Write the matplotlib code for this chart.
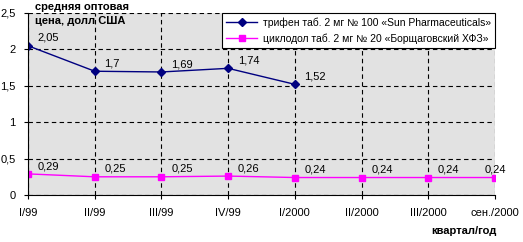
import matplotlib.pyplot as plt

# данные
quarters = ["I/99", "II/99", "III/99", "IV/99", "I/2000", "II/2000", "III/2000", "сен./2000"]
trifen = [2.05, 1.7, 1.69, 1.74, 1.52]
cyclodol = [0.29, 0.25, 0.25, 0.26, 0.24, 0.24, 0.24, 0.24]
trifen_name = "трифен таб. 2 мг № 100 «Sun Pharmaceuticals»"
cyclodol_name = "циклодол таб. 2 мг № 20 «Борщаговский ХФЗ»"
y_ticks = [0, 0.5, 1, 1.5, 2, 2.5]

plt.rcParams['font.family'] = ['Liberation Sans', 'DejaVu Sans']

fig = plt.figure(figsize=(5.23, 2.42), dpi=100)
ax = fig.add_axes([28 / 523, 47 / 242, 467 / 523, 182 / 242])
ax.set_facecolor("#e2e2e2")

x1 = list(range(len(trifen)))
x2 = list(range(len(cyclodol)))
ax.plot(x1, trifen, color="#000080", lw=1, marker="D", ms=4, label=trifen_name)
ax.plot(x2, cyclodol, color="#ff00ff", lw=1, marker="s", ms=5, label=cyclodol_name)

def fmt(v):
    return ("%g" % v).replace(".", ",")

for x, v in zip(x1, trifen):
    ax.annotate(fmt(v), (x, v), xytext=(7, 3.5), textcoords="offset points", fontsize=8)
for x, v in zip(x2, cyclodol):
    if x < len(cyclodol) - 1:
        ax.annotate(fmt(v), (x, v), xytext=(7, 3.5), textcoords="offset points", fontsize=8)
    else:
        ax.annotate(fmt(v), (x, v), xytext=(0, 3.5), textcoords="offset points",
                    fontsize=8, ha="center")

ax.set_xlim(0, len(quarters) - 1)
ax.set_ylim(0, 2.5)
ax.set_xticks(x2)
ax.set_xticklabels(quarters, fontsize=8)
ax.set_yticks(y_ticks)
ax.set_yticklabels([fmt(t) for t in y_ticks], fontsize=8)
ax.tick_params(length=3, width=0.8, pad=6)
ax.grid(True, color="black", ls=(0, (4, 3)), lw=0.8)
ax.set_axisbelow(True)
for s in ["top", "right"]:
    ax.spines[s].set_visible(False)

leg = ax.legend(loc="upper right", bbox_to_anchor=(1.0, 1.0), fontsize=7.5,
                frameon=True, fancybox=False, framealpha=1, edgecolor="black",
                borderaxespad=0, handlelength=3, handletextpad=0.5,
                labelspacing=0.55, borderpad=0.4)
leg.get_frame().set_linewidth(0.8)

fig.text(35 / 523, 1 - 14 / 242, "средняя оптовая\nцена, долл США", fontsize=8,
         fontweight="bold", va="center", ha="left", linespacing=1.5)
fig.text(497 / 523, 1 - 231 / 242, "квартал/год", fontsize=8, fontweight="bold",
         ha="right", va="center")

fig.savefig("out.png", dpi=100)
